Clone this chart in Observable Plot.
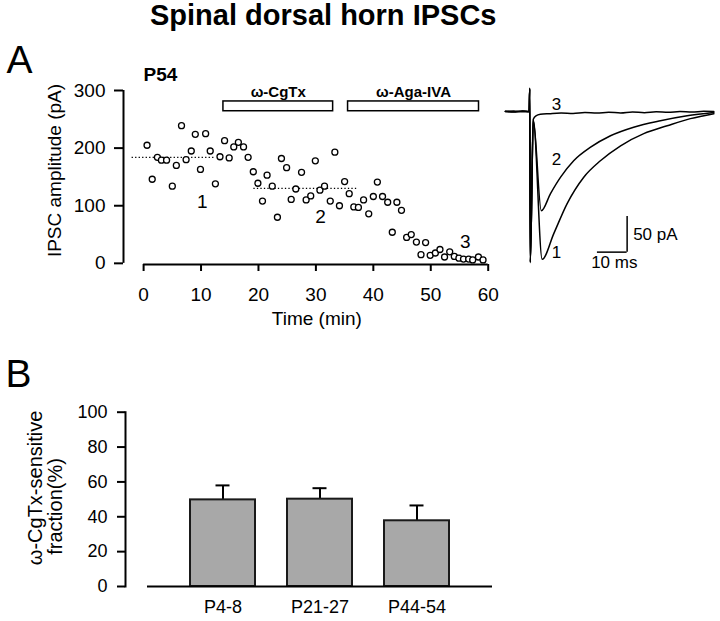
<!DOCTYPE html>
<html>
<head>
<meta charset="utf-8">
<script src="https://cdn.jsdelivr.net/npm/d3@7"></script>
<script src="https://cdn.jsdelivr.net/npm/@observablehq/plot@0.6"></script>
<style>
html, body { margin: 0; padding: 0; background: #fff; }
#fig { position: relative; width: 720px; height: 621px; overflow: hidden; background: #fff;
       font-family: "Liberation Sans", Arial, Helvetica, sans-serif; color: #000; }
.abs { position: absolute; line-height: 1; white-space: nowrap; }
#fig svg { position: absolute; }
</style>
</head>
<body>
<div id="fig">
  <div class="abs" style="left:150px;top:0.5px;font-size:29px;font-weight:bold;">Spinal dorsal horn IPSCs</div>
  <div class="abs" style="left:6.5px;top:40.3px;font-size:39px;">A</div>
  <div class="abs" style="left:5.5px;top:354px;font-size:39px;">B</div>
</div>
<script>
// ---------- Panel A: time course ----------
const timeMin = [0.6,1.5,2.4,3.1,4.0,5.0,5.7,6.6,7.4,8.3,9.0,9.9,10.8,11.6,12.5,13.3,14.1,14.9,15.7,16.5,
  17.4,18.2,19.1,19.9,20.7,21.5,22.4,23.3,24.0,24.9,25.7,26.5,27.5,28.3,29.1,29.9,30.7,31.5,32.5,33.3,
  34.1,35.0,35.8,36.6,37.4,38.3,39.2,40.0,40.7,41.6,42.5,43.3,44.1,44.9,45.8,46.6,47.5,48.3,49.1,49.9,
  50.8,51.6,52.4,53.3,54.1,54.9,55.7,56.6,57.3,58.3,59.1];
const amplitudePA = [205,146,184,179,179,134,170,239,180,195,224,163,225,195,138,185,213,183,202,210,
  202,184,159,139,108,153,134,80,182,166,111,129,158,110,117,178,127,134,108,193,
  100,142,121,98,97,110,86,116,141,116,106,54,106,92,45,50,37,15,36,14,
  18,24,11,20,12,9,7.5,7.5,6,11,6];
const meanLabels = ["1", "2"];
const meanStart = [-2.0, 19.2];
const meanEnd = [12.5, 37.3];
const meanAmp = [184, 130];
const drugNames = ["ω-CgTx", "ω-Aga-IVA"];
const drugStart = [13.9, 35.6];
const drugEnd = [33.0, 58.4];
const drugBarLevel = [264, 281];
const pointLabels = ["1", "2", "3"];
const pointLabelTime = [10.2, 30.8, 56.0];
const pointLabelAmp = [106, 80, 38];
const cellLabel = "P54";
const xTicksA = [0, 10, 20, 30, 40, 50, 60];
const yTicksA = [0, 100, 200, 300];

// ---------- Traces ----------
const traceT1 = [-8.8,-6,-3,-0.8,-0.6,-0.4,0.6,3.6,7.5,12.0,17.6,23.2,30.0,37.8,45.7,53.5,61.4];
const traceI1 = [0.5,-0.5,0.8,0,33,-212,-12,-207,-171,-129,-92,-69,-48,-31,-20,-10,-3];
const traceT2 = [-8.8,-6,-3,-0.8,-0.6,-0.4,0.6,3.3,6.4,9.8,14.2,19.9,26.6,34.4,43.4,52.4,61.4];
const traceI2 = [0,0.8,-0.5,0,32,-211,-13,-139,-115,-92,-69,-50,-34,-22,-13,-6,-1.5];
const traceT3 = [-8.8,-6,-3,-0.8,-0.6,-0.4,0.6,1.5,3,6,10,14,18,22,26,30,34,38,42,46,50,54,58,61.4];
const traceI3 = [0,-0.8,0.6,0,31,-210,-11,-6,-4,-3,-2,-2.8,-1.5,-2.2,-1,-2,-0.6,-1.6,-0.4,-1.2,0,-0.8,0.4,0];
const traceLabels = ["1", "2", "3"];
const traceLabelTime = [8.4, 8.4, 8.4];
const traceLabelPA = [-198, -67, 10];
const scaleBarCornerMs = 32.2;
const scaleBarCornerPA = -197;
const scaleBarMs = 10;
const scaleBarPA = 50;

// ---------- Panel B ----------
const groups = ["P4-8", "P21-27", "P44-54"];
const fraction = [49.7, 50.1, 37.7];
const fractionSem = [8.3, 6.3, 8.8];
const yTicksB = [0, 20, 40, 60, 80, 100];

const FONT = '"Liberation Sans", Arial, Helvetica, sans-serif';
const fig = document.getElementById("fig");
function place(svg, left, top) {
  svg.style.left = left + "px";
  svg.style.top = top + "px";
  fig.appendChild(svg);
}
const baseStyle = {fontFamily: FONT, fontSize: "19px", background: "transparent", overflow: "visible", color: "#000"};

// Panel A
const scatter = timeMin.map((t, i) => ({t, amp: amplitudePA[i]}));
const means = meanLabels.map((l, i) => ({label: l, t1: meanStart[i], t2: meanEnd[i], amp: meanAmp[i]}));
const drugs = drugNames.map((n, i) => ({name: n, start: drugStart[i], end: drugEnd[i]}));
const ptLabels = pointLabels.map((l, i) => ({label: l, t: pointLabelTime[i], amp: pointLabelAmp[i]}));
const xDomainA = [-3.5, 60];
const yDomainA = [-2, 300];

const panelA = Plot.plot({
  width: 500, height: 290,
  marginLeft: 123, marginRight: 12.3, marginTop: 50, marginBottom: 66,
  x: {domain: xDomainA},
  y: {domain: yDomainA},
  style: baseStyle,
  marks: [
    Plot.ruleX([xDomainA[0]], {y1: yTicksA[0], y2: yTicksA[yTicksA.length - 1], strokeWidth: 2}),
    Plot.ruleY([yDomainA[0]], {x1: xTicksA[0], x2: xTicksA[xTicksA.length - 1], strokeWidth: 2}),
    Plot.axisY({ticks: yTicksA, tickSize: 9, tickPadding: 9, fontSize: 19, strokeWidth: 2, label: null}),
    Plot.axisX({ticks: xTicksA, tickSize: 7, tickPadding: 15.7, fontSize: 19, strokeWidth: 2, label: null}),
    Plot.text(["Time (min)"], {frameAnchor: "bottom", textAnchor: "middle", dx: 11, dy: 60, lineAnchor: "bottom", fontSize: 19}),
    Plot.text(["IPSC amplitude (pA)"], {frameAnchor: "left", textAnchor: "middle", lineAnchor: "middle", rotate: -90, dx: -68.5, dy: -7, fontSize: 19}),
    Plot.ruleY(means, {y: "amp", x1: "t1", x2: "t2", strokeDasharray: "1.3 2.2", strokeWidth: 1.3}),
    Plot.dot(scatter, {x: "t", y: "amp", r: 3, stroke: "#000", fill: "#fff", strokeWidth: 1.3}),
    Plot.rect(drugs, {x1: "start", x2: "end", y1: drugBarLevel[0], y2: drugBarLevel[1], fill: "#fff", stroke: "#000", strokeWidth: 1.5}),
    Plot.text(drugs, {x: d => (d.start + d.end) / 2, y: drugBarLevel[1], text: "name", lineAnchor: "bottom", dy: -4.3, fontWeight: "bold", fontSize: 15}),
    Plot.text(ptLabels, {x: "t", y: "amp", text: "label", fontSize: 19}),
    Plot.text([cellLabel], {x: xTicksA[0], y: 316, textAnchor: "start", lineAnchor: "bottom", fontWeight: "bold", fontSize: 19})
  ]
});
place(panelA, 0, 40);

// Traces
const traceRows = [];
[[traceT1, traceI1, "1"], [traceT2, traceI2, "2"], [traceT3, traceI3, "3"]].forEach(([T, I, id]) => {
  T.forEach((t, k) => traceRows.push({trace: id, t, pA: I[k]}));
});
const trLabels = traceLabels.map((l, i) => ({label: l, t: traceLabelTime[i], pA: traceLabelPA[i]}));
const bar = {t: scaleBarCornerMs, pA: scaleBarCornerPA};
const panelT = Plot.plot({
  width: 220, height: 230,
  marginLeft: 1.3, marginRight: 1.9, marginTop: 4.6, marginBottom: 4.1,
  x: {domain: [-10, 63], axis: null},
  y: {domain: [-245, 65], axis: null},
  style: baseStyle,
  marks: [
    Plot.line(traceRows, {x: "t", y: "pA", z: "trace", stroke: "#000", strokeWidth: 1.5, curve: "monotone-x"}),
    Plot.ruleY([bar], {y: "pA", x1: d => d.t - scaleBarMs, x2: "t", strokeWidth: 1.5}),
    Plot.ruleX([bar], {x: "t", y1: "pA", y2: d => d.pA + scaleBarPA, strokeWidth: 1.5}),
    Plot.text([bar], {x: "t", y: d => d.pA + scaleBarPA / 2, text: () => scaleBarPA + " pA", textAnchor: "start", dx: 6, fontSize: 17}),
    Plot.text([bar], {x: d => d.t - scaleBarMs / 2, y: "pA", text: () => scaleBarMs + " ms", lineAnchor: "top", dy: 4, dx: 2, fontSize: 17}),
    Plot.text(trLabels, {x: "t", y: "pA", text: "label", fontSize: 17})
  ]
});
place(panelT, 500, 60);

// Panel B
const barsB = groups.map((g, i) => ({group: g, value: fraction[i], sem: fractionSem[i]}));
const panelB = Plot.plot({
  width: 520, height: 226,
  marginLeft: 125, marginRight: 28, marginTop: 16.7, marginBottom: 35,
  x: {domain: groups, type: "band", paddingInner: 0.325, paddingOuter: 0, insetLeft: 63.7, insetRight: 41.3},
  y: {domain: [yTicksB[0], yTicksB[yTicksB.length - 1]]},
  style: baseStyle,
  marks: [
    Plot.frame({anchor: "left", strokeWidth: 2}),
    Plot.axisY({ticks: yTicksB, tickSize: 8, tickPadding: 10, fontSize: 18, strokeWidth: 2, label: null}),
    Plot.axisX({tickSize: 0, tickPadding: 14, fontSize: 18, label: null}),
    Plot.ruleX(barsB, {x: "group", y1: "value", y2: d => d.value + d.sem, strokeWidth: 2}),
    Plot.tickY(barsB, {x: "group", y: d => d.value + d.sem, strokeWidth: 2, insetLeft: 25.5, insetRight: 25.5}),
    Plot.barY(barsB, {x: "group", y: "value", fill: "#a8a8a8", stroke: "#1a1a1a", strokeWidth: 2}),
    Plot.ruleY([0], {insetLeft: 22, strokeWidth: 2}),
    Plot.text(["ω-CgTx-sensitive"], {frameAnchor: "left", textAnchor: "middle", lineAnchor: "middle", rotate: -90, dx: -90, dy: -11.4, fontSize: 20}),
    Plot.text(["fraction(%)"], {frameAnchor: "left", textAnchor: "middle", lineAnchor: "middle", rotate: -90, dx: -70, dy: 7.1, fontSize: 20})
  ]
});
place(panelB, 0, 395);
</script>
</body>
</html>
